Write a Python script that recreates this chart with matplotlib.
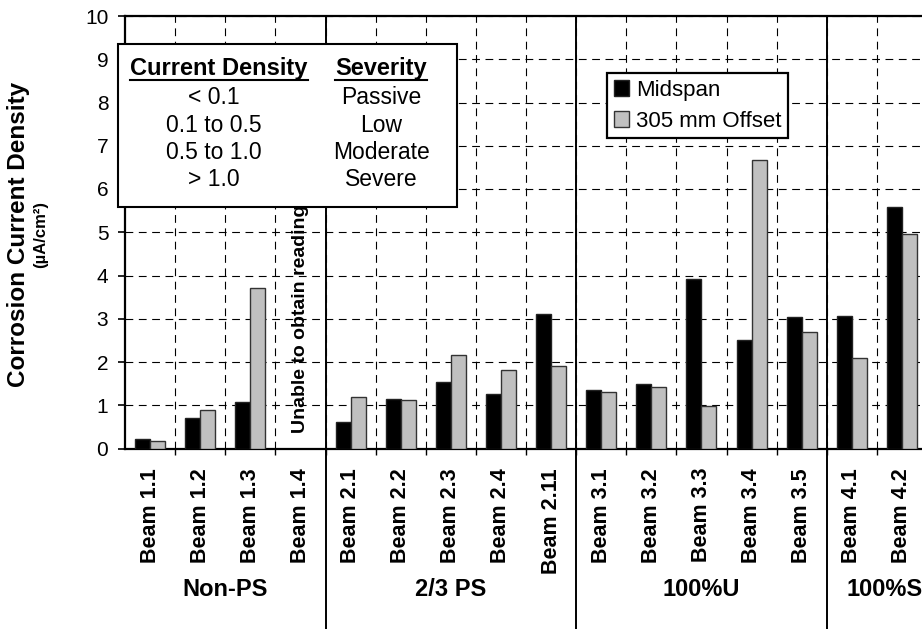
import numpy as np
import matplotlib
matplotlib.use("Agg")
import matplotlib.pyplot as plt
import matplotlib.patches as mpatches
import matplotlib.transforms as mtransforms
from matplotlib.lines import Line2D

plt.rcParams['font.family'] = ['Liberation Sans', 'DejaVu Sans']

# data
beams = ['Beam 1.1', 'Beam 1.2', 'Beam 1.3', 'Beam 1.4',
         'Beam 2.1', 'Beam 2.2', 'Beam 2.3', 'Beam 2.4', 'Beam 2.11',
         'Beam 3.1', 'Beam 3.2', 'Beam 3.3', 'Beam 3.4', 'Beam 3.5',
         'Beam 4.1', 'Beam 4.2']
midspan = [0.22, 0.70, 1.08, np.nan, 0.62, 1.14, 1.54, 1.25, 3.10,
           1.35, 1.50, 3.91, 2.50, 3.04, 3.06, 5.59]
offset = [0.18, 0.90, 3.70, np.nan, 1.18, 1.13, 2.17, 1.81, 1.90,
          1.30, 1.43, 0.99, 6.68, 2.70, 2.10, 4.95]

groups = ['Non-PS', '2/3 PS', '100%U', '100%S']
group_centers = [1.5, 6, 11, 14.65]
group_bounds = [3.5, 8.5, 13.5]

density_ranges = ['< 0.1', '0.1 to 0.5', '0.5 to 1.0', '> 1.0']
severities = ['Passive', 'Low', 'Moderate', 'Severe']

W, H = 922, 629


def fx(px):
    return px / W


def fy(py):
    return 1 - py / H


fig = plt.figure(figsize=(W / 100, H / 100), dpi=100)
ax_top, ax_bot = 16, 448.5
ax = fig.add_axes([fx(125), fy(ax_bot), 802 / W, (ax_bot - ax_top) / H])

x = np.arange(len(beams))
bw = 0.3
ax.bar(x - bw / 2, midspan, bw, color='black', edgecolor='#222222', linewidth=1, label='Midspan', zorder=3)
ax.bar(x + bw / 2, offset, bw, color='#c0c0c0', edgecolor='#333333', linewidth=1, label='305 mm Offset', zorder=3)

ax.set_xlim(-0.5, len(beams) - 0.5)
ax.set_ylim(0, 10)
ax.set_yticks(range(0, 11))
ax.tick_params(axis='y', labelsize=15, length=5, width=1.2, direction='out', pad=7)

ax.set_xticks(x)
ax.set_xticklabels(beams, rotation=90, fontsize=15.5, fontweight='bold')
ax.tick_params(axis='x', which='major', length=0, pad=14)
ax.set_xticks(x[:-1] + 0.5, minor=True)
ax.tick_params(axis='x', which='minor', length=4, width=1, direction='out')

ax.set_axisbelow(True)
ax.grid(axis='y', which='major', linestyle=(0, (7, 5)), color='black', linewidth=0.8)
ax.grid(axis='x', which='minor', linestyle=(0, (7, 5)), color='black', linewidth=0.8)

for s in ['left', 'bottom', 'top']:
    ax.spines[s].set_linewidth(1.6)
ax.spines['right'].set_visible(False)

# group separators down to the bottom of the figure
trans = mtransforms.blended_transform_factory(ax.transData, ax.transAxes)
ybot = -(H - ax_bot) / (ax_bot - ax_top)
for b in group_bounds:
    ax.plot([b, b], [1, ybot], color='black', linewidth=1.4, transform=trans, clip_on=False, zorder=4)

for name, c in zip(groups, group_centers):
    ax.text(c, fy(589), name, transform=mtransforms.blended_transform_factory(ax.transData, fig.transFigure),
            ha='center', va='center', fontsize=17, fontweight='bold')

ax.text(3, 0.36, 'Unable to obtain reading', rotation=90, ha='center', va='bottom',
        fontsize=14, fontweight='bold', zorder=4)

# axis title
fig.text(fx(19), fy(234), 'Corrosion Current Density', rotation=90, ha='center', va='center',
         fontsize=17.5, fontweight='bold')
fig.text(fx(41), fy(234), '(µA/cm²)', rotation=90, ha='center', va='center',
         fontsize=12, fontweight='bold')

# severity table box
box = mpatches.Rectangle((fx(118), fy(207)), (457 - 118) / W, (207 - 44) / H, transform=fig.transFigure,
                         facecolor='white', edgecolor='black', linewidth=1.5, zorder=5)
fig.add_artist(box)
fig.text(fx(219), fy(69), 'Current Density', ha='center', va='center', fontsize=17, fontweight='bold', zorder=6)
fig.text(fx(381), fy(69), 'Severity', ha='center', va='center', fontsize=17, fontweight='bold', zorder=6)
fig.add_artist(Line2D([fx(130), fx(308)], [fy(80), fy(80)], color='black', linewidth=1.5, zorder=6))
fig.add_artist(Line2D([fx(335), fx(427)], [fy(80), fy(80)], color='black', linewidth=1.5, zorder=6))
row_y = [98, 125, 152, 180]
for ry, d, s in zip(row_y, density_ranges, severities):
    fig.text(fx(214), fy(ry), d, ha='center', va='center', fontsize=16.5, zorder=6)
    fig.text(fx(381), fy(ry), s, ha='center', va='center', fontsize=16.5, zorder=6)

leg = ax.legend(loc='upper left', bbox_to_anchor=(fx(607), fy(73)), bbox_transform=fig.transFigure,
                fontsize=16, frameon=True, fancybox=False, edgecolor='black', framealpha=1,
                borderpad=0.3, handlelength=0.7, handleheight=0.7, handletextpad=0.3,
                labelspacing=0.45, borderaxespad=0)
leg.get_frame().set_linewidth(1.6)
leg.set_zorder(6)

fig.savefig('out.png', dpi=100)
